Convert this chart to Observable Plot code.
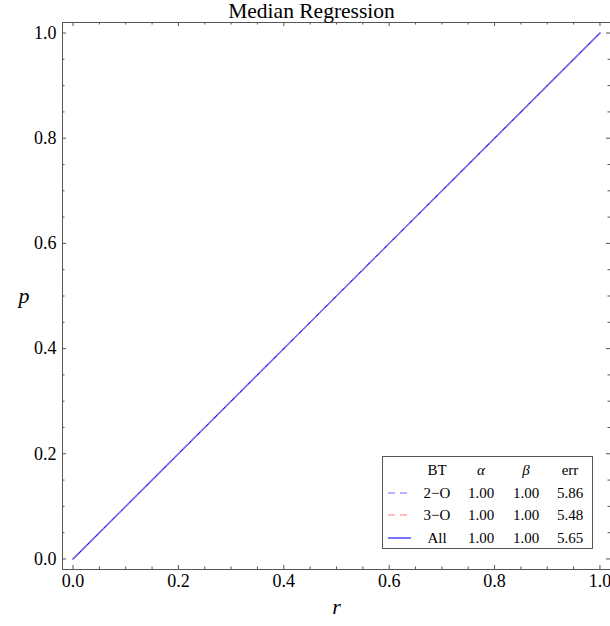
<!DOCTYPE html>
<html>
<head>
<meta charset="utf-8">
<script src="https://cdn.jsdelivr.net/npm/d3@7"></script>
<script src="https://cdn.jsdelivr.net/npm/@observablehq/plot@0.6"></script>
<style>
  body { margin: 0; overflow: hidden; background: #fff; }
  #chart { position: relative; width: 610px; height: 626px; font-family: "Liberation Serif", "Times New Roman", serif; color: #000; }
  #chart svg { position: absolute; left: 0; top: 0; }
  #legend { position: absolute; left: 382px; top: 456px; width: 211px; height: 93px; border: 1px solid #555; background: #fff; box-sizing: border-box; }
  .cell { position: absolute; transform: translate(-50%, -50%); font-size: 15px; white-space: nowrap; line-height: 1; }
  .greek { font-style: italic; }
  .swatch { position: absolute; transform: translateY(-50%); }
</style>
</head>
<body>
<div id="chart"></div>
<script>
// Chart text
const title = "Median Regression";
const xLabel = "r";
const yLabel = "p";

// Fitted series: name, line style and fit parameters
const seriesNames = ["2\u2212O", "3\u2212O", "All"];
const seriesColors = ["#6e6eff", "#ff8080", "#1a1af0"];
const seriesDash = ["7,5", "7,5", null];
const alphaValues = [1.00, 1.00, 1.00];
const betaValues = [1.00, 1.00, 1.00];
const errValues = [5.86, 5.48, 5.65];

// Fitted line end points (identical for the three fits)
const rValues = [0, 1];
const pValues = [0, 1];

// Scale domains and ticks
const xDomain = [-0.02, 1.02];
const yDomain = [-0.02, 1.02];
const majorTicks = [0, 0.2, 0.4, 0.6, 0.8, 1.0];
const minorTicks = [0.05, 0.1, 0.15, 0.25, 0.3, 0.35, 0.45, 0.5, 0.55, 0.65, 0.7, 0.75, 0.85, 0.9, 0.95];

const width = 610, height = 626;
const marginLeft = 62, marginRight = 0, marginTop = 22, marginBottom = 57;
const frameW = width - marginLeft - marginRight;
const frameH = height - marginTop - marginBottom;
const frameColor = "#555";
const majorLen = 4, minorLen = 2.5;

const rows = seriesNames.map((name, i) => rValues.map((r, j) => ({series: name, r, p: pValues[j]})));

// Draw order: solid "All" underneath, dashed fits on top
const drawOrder = [2, 1, 0];

const chart = Plot.plot({
  width, height, marginLeft, marginRight, marginTop, marginBottom,
  style: {fontFamily: "'Liberation Serif', 'Times New Roman', serif", color: "#000", background: "transparent"},
  x: {domain: xDomain},
  y: {domain: yDomain},
  marks: [
    // frame (left, bottom, top)
    Plot.ruleX([xDomain[0]], {stroke: frameColor}),
    Plot.ruleY([yDomain[0], yDomain[1]], {stroke: frameColor}),
    // inward ticks on all four sides
    Plot.tickX(majorTicks, {x: d => d, insetTop: frameH - majorLen, stroke: frameColor}),
    Plot.tickX(minorTicks, {x: d => d, insetTop: frameH - minorLen, stroke: frameColor}),
    Plot.tickX(majorTicks, {x: d => d, insetBottom: frameH - majorLen, stroke: frameColor}),
    Plot.tickX(minorTicks, {x: d => d, insetBottom: frameH - minorLen, stroke: frameColor}),
    Plot.tickY(majorTicks, {y: d => d, insetRight: frameW - majorLen, stroke: frameColor}),
    Plot.tickY(minorTicks, {y: d => d, insetRight: frameW - minorLen, stroke: frameColor}),
    Plot.tickY(majorTicks, {y: d => d, insetLeft: frameW - majorLen, stroke: frameColor}),
    Plot.tickY(minorTicks, {y: d => d, insetLeft: frameW - minorLen, stroke: frameColor}),
    // tick labels
    Plot.axisX(majorTicks, {tickSize: 0, tickPadding: 5, tickFormat: d3.format(".1f"), fontSize: 18, label: null}),
    Plot.axisY(majorTicks, {tickSize: 0, tickPadding: 6, tickFormat: d3.format(".1f"), fontSize: 18, label: null}),
    // fitted lines
    ...drawOrder.map(i => Plot.line(rows[i], {
      x: "r", y: "p", stroke: seriesColors[i], strokeWidth: 1.2,
      strokeDasharray: seriesDash[i] ?? undefined
    })),
    // title and axis labels
    Plot.text([title], {frameAnchor: "top", text: d => d, dx: -25, dy: -11, fontSize: 21.5, lineAnchor: "middle"}),
    Plot.text([xLabel], {frameAnchor: "bottom", text: d => d, dy: 37, fontSize: 22, fontStyle: "italic", lineAnchor: "middle"}),
    Plot.text([yLabel], {frameAnchor: "left", text: d => d, dx: -44, fontSize: 22, fontStyle: "italic", lineAnchor: "middle"})
  ]
});

const root = document.getElementById("chart");
root.appendChild(chart);

// Legend table: swatch, BT, alpha, beta, err
const legend = document.createElement("div");
legend.id = "legend";
const colX = [54, 98, 143, 187];
const rowY = [13, 36, 58, 81];
const header = ["BT", "\u03b1", "\u03b2", "err"];
function cell(text, x, y, cls) {
  const s = document.createElement("span");
  s.className = "cell" + (cls ? " " + cls : "");
  s.style.left = x + "px";
  s.style.top = y + "px";
  s.textContent = text;
  legend.appendChild(s);
}
header.forEach((h, k) => cell(h, colX[k], rowY[0], (k === 1 || k === 2) ? "greek" : ""));
seriesNames.forEach((name, i) => {
  const y = rowY[i + 1];
  const sw = document.createElementNS("http://www.w3.org/2000/svg", "svg");
  sw.setAttribute("class", "swatch");
  sw.setAttribute("width", 24);
  sw.setAttribute("height", 4);
  sw.style.left = "5px";
  sw.style.top = y + "px";
  const ln = document.createElementNS("http://www.w3.org/2000/svg", "line");
  ln.setAttribute("x1", 0); ln.setAttribute("x2", 23);
  ln.setAttribute("y1", 2); ln.setAttribute("y2", 2);
  ln.setAttribute("stroke", seriesColors[i]);
  ln.setAttribute("stroke-width", 1.2);
  if (seriesDash[i]) ln.setAttribute("stroke-dasharray", seriesDash[i]);
  sw.appendChild(ln);
  legend.appendChild(sw);
  cell(name, colX[0], y);
  cell(alphaValues[i].toFixed(2), colX[1], y);
  cell(betaValues[i].toFixed(2), colX[2], y);
  cell(errValues[i].toFixed(2), colX[3], y);
});
root.appendChild(legend);
</script>
</body>
</html>
